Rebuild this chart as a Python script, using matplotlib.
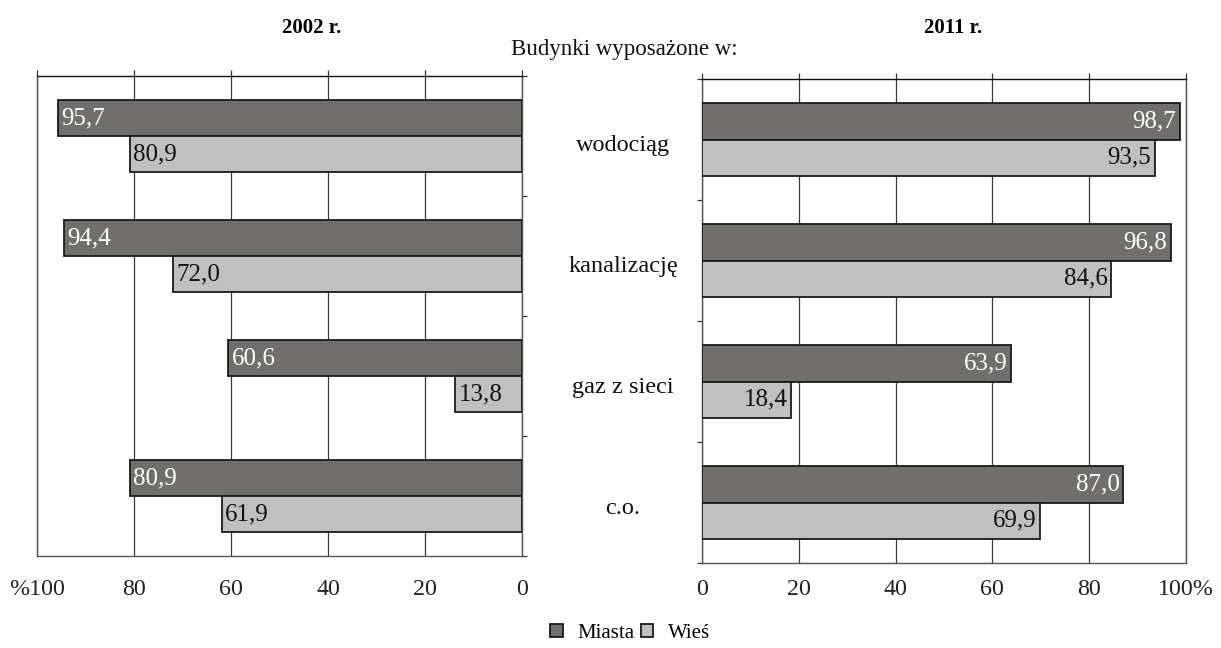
import matplotlib
matplotlib.use("Agg")
import matplotlib.pyplot as plt
from matplotlib.patches import Patch
import matplotlib.transforms as mtransforms

plt.rcParams['font.family'] = ['Liberation Serif', 'DejaVu Serif']

categories = ["wodociąg", "kanalizację", "gaz z sieci", "c.o."]
series_names = ["Miasta", "Wieś"]
miasta_2002 = [95.7, 94.4, 60.6, 80.9]
wies_2002 = [80.9, 72.0, 13.8, 61.9]
miasta_2011 = [98.7, 96.8, 63.9, 87.0]
wies_2011 = [93.5, 84.6, 18.4, 69.9]
left_ticks = [100, 80, 60, 40, 20, 0]
left_ticklabels = ["%100", "80", "60", "40", "20", "0"]
right_ticks = [0, 20, 40, 60, 80, 100]
right_ticklabels = ["0", "20", "40", "60", "80", "100%"]
titles = ["2002 r.", "2011 r."]
supertitle = "Budynki wyposażone w:"

def fmt(v):
    return f"{v:.1f}".replace(".", ",")

C_DARK = "#716f6c"
C_LIGHT = "#c0c0c0"
EDGE = "#1a1a1a"
FS_BAR = 18
FS_CAT = 17.5
FS_TICK = 17.3
W, H = 1221, 648
fig = plt.figure(figsize=(W / 100, H / 100), dpi=100)

axL = fig.add_axes([37 / W, 1 - 556 / H, (522 - 37) / W, (556 - 76) / H])
axR = fig.add_axes([702 / W, 1 - 563 / H, (1186 - 702) / W, (563 - 79) / H])

ypos = list(range(len(categories)))
bh = 0.3

def draw(ax, m, w, side, pad):
    ym = [y - bh / 2 for y in ypos]
    yw = [y + bh / 2 for y in ypos]
    ax.barh(ym, m, height=bh, color=C_DARK, edgecolor=EDGE, linewidth=1.3, zorder=3)
    ax.barh(yw, w, height=bh, color=C_LIGHT, edgecolor=EDGE, linewidth=1.3, zorder=3)
    ax.set_ylim(len(categories) - 0.5, -0.5)
    for vals, ys, col in ((m, ym, "white"), (w, yw, "#111111")):
        for v, y in zip(vals, ys):
            if side == "left":
                ax.annotate(fmt(v), (v, y), xytext=(2.5, 0), textcoords="offset points",
                            ha="left", va="center", color=col, fontsize=FS_BAR, zorder=4)
            else:
                ax.annotate(fmt(v), (v, y), xytext=(-2.5, 0), textcoords="offset points",
                            ha="right", va="center", color=col, fontsize=FS_BAR, zorder=4)
    ax.grid(axis="x", color="#3a3a3a", linewidth=0.9, zorder=1)
    ax.set_axisbelow(True)
    for s in ax.spines.values():
        s.set_color("#555555")
        s.set_linewidth(1.0)
    ax.spines["top"].set_color("#111111")
    ax.tick_params(axis="x", bottom=False, top=True, labelbottom=True, labeltop=False,
                   direction="out", length=4.5, width=0.9, color="#333333",
                   pad=pad, labelsize=FS_TICK, labelcolor="#222222")
    ax.set_yticks([y - 0.5 for y in ypos] + [len(categories) - 0.5])
    ax.set_yticklabels([])

draw(axL, miasta_2002, wies_2002, "left", 12)
axL.set_xlim(100, 0)
axL.set_xticks(left_ticks)
axL.set_xticklabels(left_ticklabels)
axL.tick_params(axis="y", left=False, right=True, direction="out", length=3.5, width=0.9, color="#333333")

draw(axR, miasta_2011, wies_2011, "right", 7)
axR.set_xlim(0, 100)
axR.set_xticks(right_ticks)
axR.set_xticklabels(right_ticklabels)
axR.tick_params(axis="y", left=True, right=False, direction="out", length=3.5, width=0.9, color="#333333")

# category labels between panels
trans = mtransforms.blended_transform_factory(fig.transFigure, axR.transData)
for y, c in zip(ypos, categories):
    fig.text(623 / W, y + 0.05, c, transform=trans, ha="center", va="center", fontsize=FS_CAT, color="#111111")

fig.text(312 / W, 1 - 28 / H, titles[0], ha="center", va="center", fontsize=15, fontweight="bold")
fig.text(953 / W, 1 - 28 / H, titles[1], ha="center", va="center", fontsize=15, fontweight="bold")
fig.text(624 / W, 1 - 50 / H, supertitle, ha="center", va="center", fontsize=16.5, color="#111111")

handles = [Patch(facecolor=C_DARK, edgecolor=EDGE, linewidth=1.3),
           Patch(facecolor=C_LIGHT, edgecolor=EDGE, linewidth=1.3)]
fig.legend(handles, series_names, loc="center", bbox_to_anchor=(630 / W, 1 - 633 / H), ncol=2,
           frameon=False, fontsize=15, handlelength=0.6, handleheight=0.6,
           handletextpad=0.7, columnspacing=0.3, borderpad=0)

fig.savefig("out.png", dpi=100)
